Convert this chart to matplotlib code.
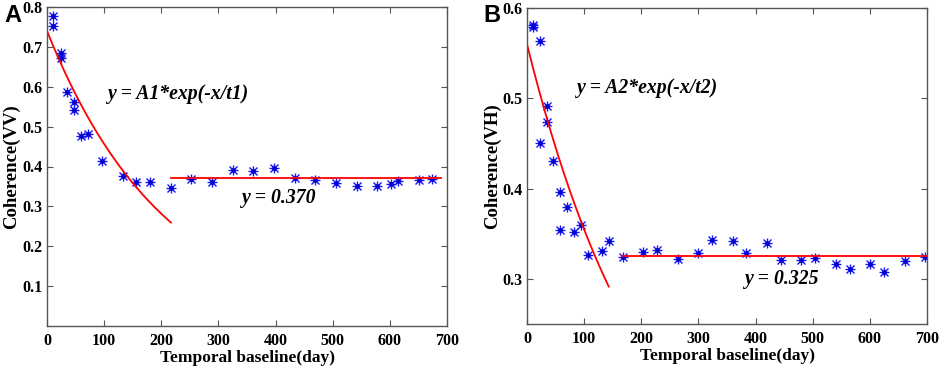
import numpy as np
import matplotlib
matplotlib.use("Agg")
import matplotlib.pyplot as plt

# Panel A data (VV)
xa = [11, 11, 24, 24, 35.5, 47.8, 47.8, 59.5, 72.3, 96, 132.4, 156, 181, 217, 252.5, 289,
      325, 361, 397, 433.5, 469.6, 505.7, 542, 578, 601.5, 614, 650.5, 674]
ya = [0.778, 0.753, 0.684, 0.671, 0.588, 0.562, 0.542, 0.476, 0.482, 0.414, 0.375, 0.362,
      0.360, 0.346, 0.368, 0.360, 0.392, 0.389, 0.397, 0.372, 0.366, 0.358, 0.350, 0.350,
      0.355, 0.364, 0.367, 0.368]
A1, t1 = 0.74, 207.0
fitA_range = (0, 217)
constA = 0.370
constA_range = (217, 690)

# Panel B data (VH)
xb = [10, 10, 22.7, 22.7, 34.4, 34.4, 46, 58.5, 58.5, 70.6, 82.8, 95, 106.7, 131, 143, 167.5,
      203, 227.5, 263.7, 300, 324, 360, 384, 420, 444, 480, 504, 540, 564.7, 600.8, 624.7, 661, 697]
yb = [0.581, 0.579, 0.563, 0.450, 0.492, 0.474, 0.430, 0.396, 0.354, 0.380, 0.352, 0.360,
      0.326, 0.331, 0.342, 0.324, 0.330, 0.332, 0.322, 0.329, 0.343, 0.342, 0.329, 0.340,
      0.321, 0.321, 0.323, 0.317, 0.311, 0.317, 0.308, 0.320, 0.324]
A2, t2 = 0.56, 219.0
fitB_range = (0, 143)
constB = 0.325
constB_range = (167, 700)

serif = ["Liberation Serif", "DejaVu Serif"]
fig = plt.figure(figsize=(9.41, 3.69), dpi=100)
W, H = 941, 369
axA = fig.add_axes([47 / W, 1 - 326 / H, 400 / W, 319 / H])
axB = fig.add_axes([527 / W, 1 - 324 / H, 400 / W, 316 / H])

def style(ax):
    for s in ax.spines.values():
        s.set_color("#555555")
        s.set_linewidth(1.0)
    ax.tick_params(direction="in", top=True, right=True, length=4, color="#555555",
                   labelsize=11.5)
    ax.tick_params(axis="y", pad=3.5)
    ax.tick_params(axis="x", pad=5)
    for lab in ax.get_xticklabels() + ax.get_yticklabels():
        lab.set_fontfamily(serif)
        lab.set_fontweight("bold")

def stars(ax, x, y):
    c = "#1515f5"
    ax.plot(x, y, linestyle="none", marker="+", markersize=7, color=c, markeredgewidth=1.0)
    ax.plot(x, y, linestyle="none", marker="x", markersize=5.5, color=c, markeredgewidth=1.0)
    ax.plot(x, y, linestyle="none", marker="o", markersize=3.5, color="#0000d0",
            markeredgewidth=0)

# Panel A
stars(axA, xa, ya)
xf = np.linspace(*fitA_range, 200)
axA.plot(xf, A1 * np.exp(-xf / t1), color="red", lw=1.3)
axA.plot(constA_range, [constA, constA], color="red", lw=1.3)
axA.set_xlim(0, 700)
axA.set_ylim(0, 0.8)
axA.set_xticks(range(0, 701, 100))
axA.set_yticks([0.1, 0.2, 0.3, 0.4, 0.5, 0.6, 0.7, 0.8])
axA.set_yticklabels(["0.1", "0.2", "0.3", "0.4", "0.5", "0.6", "0.7", "0.8"])
style(axA)
axA.set_ylabel("Coherence(VV)", fontfamily=serif, fontweight="bold", fontsize=13.5, labelpad=1)
axA.set_xlabel("Temporal baseline(day)", fontfamily=serif, fontweight="bold", fontsize=12.5, labelpad=1)
axA.text(107, 0.583, "y = A1*exp(-x/t1)", fontfamily=serif, fontweight="bold", style="italic",
         fontsize=14.2, va="center", ha="left")
axA.text(342, 0.322, "y = 0.370", fontfamily=serif, fontweight="bold", style="italic",
         fontsize=14.2, va="center", ha="left")
fig.text(4 / W, 1 - 16 / H, "A", fontfamily="Liberation Sans", fontweight="bold", fontsize=17,
         va="center", ha="left")

# Panel B
stars(axB, xb, yb)
xf = np.linspace(*fitB_range, 200)
axB.plot(xf, A2 * np.exp(-xf / t2), color="red", lw=1.3)
axB.plot(constB_range, [constB, constB], color="red", lw=1.3)
axB.set_xlim(0, 700)
axB.set_ylim(0.25, 0.6)
axB.set_xticks(range(0, 701, 100))
axB.set_yticks([0.3, 0.4, 0.5, 0.6])
axB.set_yticklabels(["0.3", "0.4", "0.5", "0.6"])
style(axB)
axB.set_ylabel("Coherence(VH)", fontfamily=serif, fontweight="bold", fontsize=13.5, labelpad=1)
axB.set_xlabel("Temporal baseline(day)", fontfamily=serif, fontweight="bold", fontsize=12.5, labelpad=1)
axB.text(88, 0.511, "y = A2*exp(-x/t2)", fontfamily=serif, fontweight="bold", style="italic",
         fontsize=14.2, va="center", ha="left")
axB.text(382, 0.30, "y = 0.325", fontfamily=serif, fontweight="bold", style="italic",
         fontsize=14.2, va="center", ha="left")
fig.text(483 / W, 1 - 16 / H, "B", fontfamily="Liberation Sans", fontweight="bold", fontsize=17,
         va="center", ha="left")

fig.savefig("out.png", dpi=100)
